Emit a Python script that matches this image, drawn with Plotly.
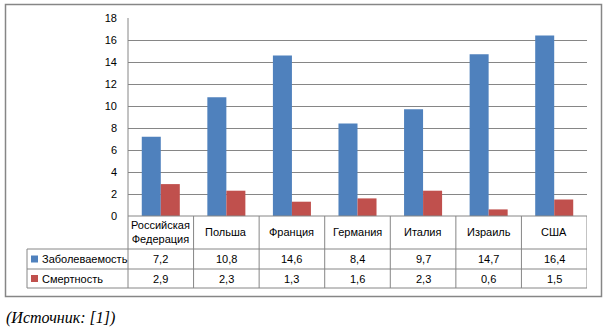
import plotly.graph_objects as go

categories = ["Российская<br>Федерация", "Польша", "Франция", "Германия", "Италия", "Израиль", "США"]
series_names = ["Заболеваемость", "Смертность"]
incidence = [7.2, 10.8, 14.6, 8.4, 9.7, 14.7, 16.4]
mortality = [2.9, 2.3, 1.3, 1.6, 2.3, 0.6, 1.5]
y_ticks = [0, 2, 4, 6, 8, 10, 12, 14, 16, 18]
caption = "(Источник: [1])"

W, H = 609, 335
L, R, T, B = 128, 587, 18, 216   # plot area in pixels
colors = ["#4F81BD", "#C0504D"]
grid = "#868686"
font = dict(family="Liberation Sans", size=11, color="#000000")


def px(x):
    return (x - L) / (R - L)


def py(y):
    return (B - y) / (B - T)


fig = go.Figure()
for name, vals, c in zip(series_names, [incidence, mortality], colors):
    fig.add_trace(go.Bar(x=list(range(len(categories))), y=vals, name=name,
                         marker=dict(color=c, line=dict(width=0))))

shapes = []
ann = []
line = dict(color=grid, width=1)
row_y = [249, 269, 288]
n = len(categories)

# outer border
shapes.append(dict(type="rect", xref="paper", yref="paper", x0=px(5.5), x1=px(601.5),
                   y0=py(4.5), y1=py(296.5), line=dict(color=grid, width=1.5)))
# table top (zero line)
shapes.append(dict(type="line", xref="paper", yref="paper", x0=0, x1=1, y0=0, y1=0, line=line))
# left axis line down to bottom of table
shapes.append(dict(type="line", xref="paper", yref="paper", x0=0, x1=0, y0=1, y1=py(row_y[2]), line=line))
# vertical column lines
for i in range(n):
    shapes.append(dict(type="line", xref="x", yref="paper", x0=i + 0.5, x1=i + 0.5,
                       y0=0, y1=py(row_y[2]), line=line))
# horizontal row lines
for ry in row_y:
    shapes.append(dict(type="line", xref="paper", yref="paper", x0=px(27), x1=1,
                       y0=py(ry), y1=py(ry), line=line))
# legend column left border
shapes.append(dict(type="line", xref="paper", yref="paper", x0=px(27), x1=px(27),
                   y0=py(row_y[0]), y1=py(row_y[2]), line=line))

# category header
for i, cat in enumerate(categories):
    ann.append(dict(x=i, y=py((B + row_y[0]) / 2), xref="x", yref="paper", text=cat,
                    showarrow=False, font=font, align="center", yanchor="middle", xanchor="center"))

# data rows
for r, (name, vals, c) in enumerate(zip(series_names, [incidence, mortality], colors)):
    top = row_y[r]
    bot = row_y[r + 1]
    cy = (top + bot) / 2
    shapes.append(dict(type="rect", xref="paper", yref="paper", x0=px(31), x1=px(38),
                       y0=py(cy + 3.5), y1=py(cy - 3.5), fillcolor=c, line=dict(width=0)))
    ann.append(dict(x=px(40), y=py(cy), xref="paper", yref="paper", text=name,
                    showarrow=False, font=font, xanchor="left", yanchor="middle"))
    for i, v in enumerate(vals):
        ann.append(dict(x=i, y=py(cy), xref="x", yref="paper",
                        text=f"{v:.1f}".replace(".", ","), showarrow=False, font=font,
                        xanchor="center", yanchor="middle"))

ann.append(dict(x=px(4), y=py(318), xref="paper", yref="paper", text="<i>" + caption + "</i>",
                showarrow=False, xanchor="left", yanchor="middle",
                font=dict(family="Liberation Serif", size=16, color="#000000")))

fig.update_layout(
    width=W, height=H,
    margin=dict(l=L, r=W - R, t=T, b=H - B),
    paper_bgcolor="white", plot_bgcolor="white",
    barmode="group", bargap=0.42, bargroupgap=0,
    showlegend=False,
    shapes=shapes, annotations=ann,
    font=font,
    xaxis=dict(range=[-0.5, n - 0.5], showticklabels=False, showgrid=False, zeroline=False,
               showline=False, ticks=""),
    yaxis=dict(range=[0, 18], tickvals=y_ticks, showgrid=True, gridcolor=grid, gridwidth=1,
               zeroline=False, showline=False, ticks="", ticklabelstandoff=10),
)
fig.write_html("out.html")
